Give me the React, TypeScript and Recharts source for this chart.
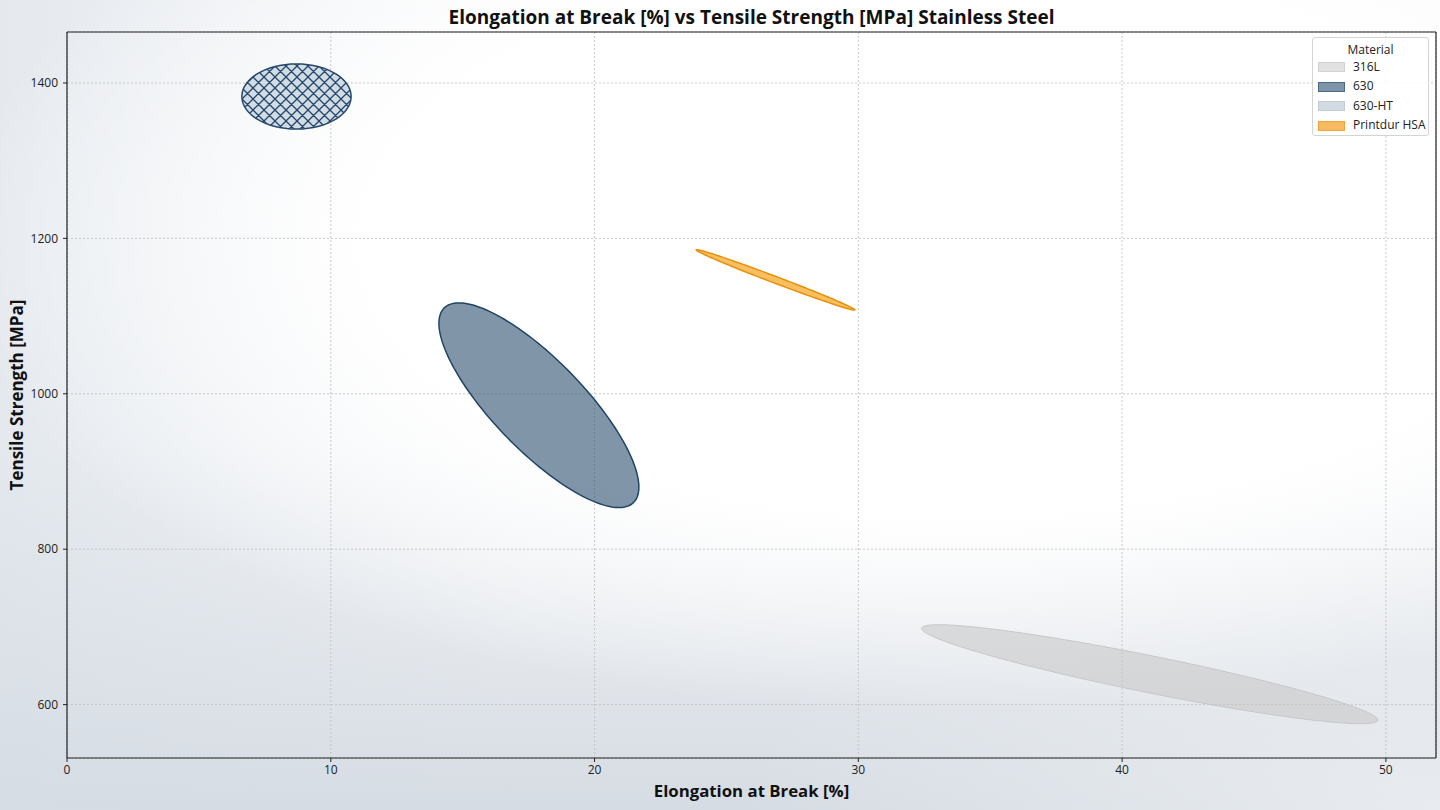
import React from 'react';
import * as R from 'recharts';

const { ScatterChart, Scatter, XAxis, YAxis, CartesianGrid, ReferenceLine, Legend } = R as any;

// ---- data ----
const materials = ['316L', '630', '630-HT', 'Printdur HSA'];
const centerElongation = [41.05, 17.89, 8.7, 26.86];
const centerStrength = [639.1, 985.3, 1382.6, 1146.6];
const halfSpanElongation = [8.65, 3.79, 2.07, 3.01];
const halfSpanStrength = [63.7, 131.7, 41.9, 38.9];
const correlation = [-0.925, -0.8, 0, -0.993];

const xTicks = [0, 10, 20, 30, 40, 50];
const yTicks = [600, 800, 1000, 1200, 1400];
const X_DOMAIN = [0, 51.9];
const Y_DOMAIN = [531.3, 1465.6];

// ---- styles ----
const fillColors = ['#c2c2c2', '#1f4466', '#d0dae4', '#f5a623'];
const fillOpacities = [0.5, 0.57, 0.95, 0.72];
const strokeColors = ['#c8c8c8', '#1f4466', '#24466a', '#e8900c'];
const strokeWidths = [1, 1.5, 1.5, 1.5];
const legendFill = ['#e1e1e1', '#7e94a9', '#d2dbe4', '#f6bb62'];
const legendEdge = ['#d2d2d2', '#4d6985', '#c3ccd6', '#eea43a'];

const FONT = "'Open Sans', 'Noto Sans', 'DejaVu Sans', sans-serif";
const W = 1440;
const H = 810;
const MARGIN = { top: 32, right: 4, bottom: 0, left: 0 };
const Y_AXIS_W = 67;
const X_AXIS_H = 52;

const usePlotAreaHook: any = (R as any).usePlotArea;
function usePlotSize() {
  const p = usePlotAreaHook ? usePlotAreaHook() : null;
  if (p && p.width && p.height) return { width: p.width, height: p.height };
  return {
    width: W - MARGIN.left - MARGIN.right - Y_AXIS_W,
    height: H - MARGIN.top - MARGIN.bottom - X_AXIS_H,
  };
}

function EllipseShape(props: any) {
  const { cx, cy, idx } = props;
  const plot = usePlotSize();
  if (cx == null || cy == null) return null;
  const kx = plot.width / (X_DOMAIN[1] - X_DOMAIN[0]);
  const ky = plot.height / (Y_DOMAIN[1] - Y_DOMAIN[0]);
  const sx = halfSpanElongation[idx] * kx;
  const sy = halfSpanStrength[idx] * ky;
  const rho = correlation[idx];
  const s = Math.sqrt(1 - rho * rho);
  const pts: string[] = [];
  const N = 180;
  for (let k = 0; k <= N; k++) {
    const t = (k / N) * Math.PI * 2;
    const px = cx + sx * Math.cos(t);
    const py = cy - sy * (rho * Math.cos(t) - s * Math.sin(t));
    pts.push(`${k === 0 ? 'M' : 'L'}${px.toFixed(2)},${py.toFixed(2)}`);
  }
  const d = pts.join(' ') + ' Z';
  const hatched = materials[idx] === '630-HT';
  const pid = `hatch-${idx}`;
  return (
    <g>
      {hatched && (
        <defs>
          <pattern id={pid} patternUnits="userSpaceOnUse" width={11} height={11}>
            <path
              d="M0,0 L11,11 M0,11 L11,0 M-2,2 L2,-2 M9,13 L13,9 M-2,9 L2,13 M9,-2 L13,2"
              stroke={strokeColors[idx]}
              strokeWidth={1.3}
            />
          </pattern>
        </defs>
      )}
      <path d={d} fill={fillColors[idx]} fillOpacity={fillOpacities[idx]} stroke="none" />
      {hatched && <path d={d} fill={`url(#${pid})`} stroke="none" />}
      <path d={d} fill="none" stroke={strokeColors[idx]} strokeWidth={strokeWidths[idx]} />
    </g>
  );
}

const rowCenters = [66, 85.5, 105, 124.5];

function LegendBox() {
  return (
    <div
      style={{
        position: 'relative',
        width: 117,
        height: 99,
        boxSizing: 'border-box',
        border: '1px solid #d4d4d4',
        borderRadius: 3,
        background: 'rgba(255,255,255,0.85)',
        fontFamily: FONT,
        fontSize: 12,
        color: '#222',
      }}
    >
      <div style={{ position: 'absolute', top: 2.5, left: 0, width: '100%', textAlign: 'center', lineHeight: '17px' }}>
        Material
      </div>
      {materials.map((m, i) => (
        <div key={m}>
          <div
            style={{
              position: 'absolute',
              left: 5,
              top: rowCenters[i] - 37 - 5,
              width: 27,
              height: 10,
              boxSizing: 'border-box',
              background: legendFill[i],
              border: `1px solid ${legendEdge[i]}`,
            }}
          />
          <div
            style={{
              position: 'absolute',
              left: 40,
              top: rowCenters[i] - 37 - 9.5,
              lineHeight: '17px',
              whiteSpace: 'nowrap',
            }}
          >
            {m}
          </div>
        </div>
      ))}
    </div>
  );
}

export default function App() {
  const tickStyle = { fontSize: 12, fill: '#222', fontFamily: FONT };
  return (
    <div
      style={{
        position: 'relative',
        width: W,
        height: H,
        overflow: 'hidden',
        background: [
          'radial-gradient(ellipse 1000px 470px at 66% 30%, rgba(255,255,255,1) 0%, rgba(255,255,255,1) 58%, rgba(255,255,255,0) 100%)',
          'radial-gradient(ellipse 700px 260px at 100% 100%, rgba(238,241,244,0.75) 0%, rgba(238,241,244,0) 100%)',
          'linear-gradient(to right, rgba(214,221,229,0.55) 0%, rgba(214,221,229,0) 35%)',
          'linear-gradient(to bottom, #f7f8fa 0%, #f5f7f9 55%, #e2e6eb 82%, #d6dce3 100%)',
        ].join(', '),
      }}
    >
      <style>{'body{margin:0}'}</style>
      <div
        style={{
          position: 'absolute',
          left: 67,
          width: 1369,
          top: 4,
          textAlign: 'center',
          fontFamily: FONT,
          fontWeight: 700,
          fontSize: 19,
          lineHeight: '26px',
          color: '#111',
          whiteSpace: 'nowrap',
        }}
      >
        Elongation at Break [%] vs Tensile Strength [MPa] Stainless Steel
      </div>
      <ScatterChart width={W} height={H} margin={MARGIN}>
        <CartesianGrid stroke="#bdbdbd" strokeDasharray="2 2" strokeWidth={0.8} />
        <XAxis
          type="number"
          dataKey="x"
          domain={X_DOMAIN}
          ticks={xTicks}
          allowDataOverflow
          height={X_AXIS_H}
          tickSize={4}
          tickMargin={3}
          tick={tickStyle}
          stroke="#222"
          axisLine={{ stroke: '#222', strokeWidth: 1.2 }}
          tickLine={{ stroke: '#222' }}
          label={{
            value: 'Elongation at Break [%]',
            position: 'insideBottom',
            offset: 13,
            style: { fontSize: 16.8, fontWeight: 700, fill: '#111', fontFamily: FONT },
          }}
        />
        <YAxis
          type="number"
          dataKey="y"
          domain={Y_DOMAIN}
          ticks={yTicks}
          allowDataOverflow
          width={Y_AXIS_W}
          tickSize={4}
          tickMargin={5}
          tick={tickStyle}
          stroke="#222"
          axisLine={{ stroke: '#222', strokeWidth: 1.2 }}
          tickLine={{ stroke: '#222' }}
          label={{
            value: 'Tensile Strength [MPa]',
            angle: -90,
            position: 'insideLeft',
            offset: 17,
            style: { fontSize: 17, fontWeight: 700, fill: '#111', fontFamily: FONT, textAnchor: 'middle' },
          }}
        />
        <ReferenceLine x={X_DOMAIN[1]} stroke="#222" strokeWidth={1.2} />
        <ReferenceLine y={Y_DOMAIN[1]} stroke="#222" strokeWidth={1.2} />
        {materials.map((m, i) => (
          <Scatter
            key={m}
            name={m}
            data={[{ x: centerElongation[i], y: centerStrength[i] }]}
            shape={<EllipseShape idx={i} />}
            isAnimationActive={false}
          />
        ))}
        <Legend
          layout="vertical"
          align="center"
          verticalAlign="middle"
          content={() => <LegendBox />}
          wrapperStyle={{ position: 'absolute', top: 37, left: 1312, width: 117, height: 99, right: 'auto', bottom: 'auto' }}
        />
      </ScatterChart>
    </div>
  );
}
